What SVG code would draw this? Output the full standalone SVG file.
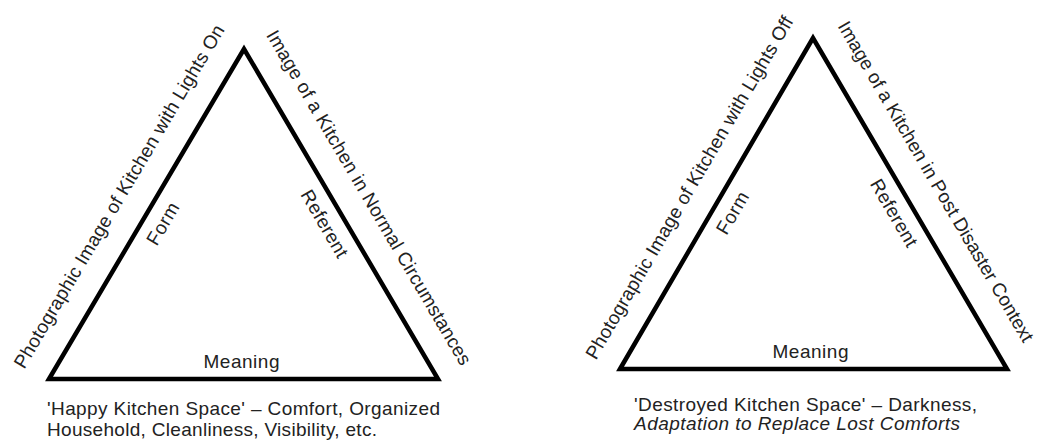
<svg xmlns="http://www.w3.org/2000/svg" width="1045" height="442" viewBox="0 0 1045 442">
  <style>
    .tri { fill: none; stroke: #000; stroke-width: 4.5; stroke-linejoin: miter; stroke-miterlimit: 10; }
    text { font-family: "Liberation Sans", Arial, sans-serif; font-size: 19px; fill: #222; }
    .mid { text-anchor: middle; }
    .it { font-style: italic; }
  </style>
  <rect width="1045" height="442" fill="#fff"/>

  <g id="connectors">
    <path id="edges-left" class="tri" d="M49,379 L244,49 L438,379 Z"/>
    <path id="edges-right" class="tri" d="M620,369 L813,38 L1007,369 Z"/>
  </g>

  <g id="triangle-left">
    <g id="left-form-outer">
      <text class="mid" transform="translate(119.5,196.7) rotate(-59.42)" y="6" textLength="395" lengthAdjust="spacing">Photographic Image of Kitchen with Lights On</text>
    </g>
    <g id="left-form">
      <text class="mid" transform="translate(163.3,223.9) rotate(-59.42)" y="6" textLength="46" lengthAdjust="spacing">Form</text>
    </g>
    <g id="left-referent-outer">
      <text class="mid" transform="translate(368.6,197.8) rotate(59.55)" y="6" textLength="385" lengthAdjust="spacing">Image of a Kitchen in Normal Circumstances</text>
    </g>
    <g id="left-referent">
      <text class="mid" transform="translate(324.2,223.9) rotate(59.55)" y="6" textLength="75" lengthAdjust="spacing">Referent</text>
    </g>
    <g id="left-meaning">
      <text class="mid" x="241.5" y="368" textLength="76" lengthAdjust="spacing">Meaning</text>
    </g>
    <g id="left-caption">
      <text x="47" y="415" textLength="393" lengthAdjust="spacing">'Happy Kitchen Space' – Comfort, Organized</text>
      <text x="47" y="436" textLength="330" lengthAdjust="spacing">Household, Cleanliness, Visibility, etc.</text>
    </g>
  </g>

  <g id="triangle-right">
    <g id="right-form-outer">
      <text class="mid" transform="translate(689.7,187.9) rotate(-59.75)" y="6" textLength="393" lengthAdjust="spacing">Photographic Image of Kitchen with Lights Off</text>
    </g>
    <g id="right-form">
      <text class="mid" transform="translate(732.9,213.1) rotate(-59.75)" y="6" textLength="46" lengthAdjust="spacing">Form</text>
    </g>
    <g id="right-referent-outer">
      <text class="mid" transform="translate(935.5,181.8) rotate(59.63)" y="6" textLength="368" lengthAdjust="spacing">Image of a Kitchen in Post Disaster Context</text>
    </g>
    <g id="right-referent">
      <text class="mid" transform="translate(893.6,213.1) rotate(59.63)" y="6" textLength="75" lengthAdjust="spacing">Referent</text>
    </g>
    <g id="right-meaning">
      <text class="mid" x="810.5" y="358" textLength="76" lengthAdjust="spacing">Meaning</text>
    </g>
    <g id="right-caption">
      <text x="634" y="411" textLength="343" lengthAdjust="spacing">'Destroyed Kitchen Space' – Darkness,</text>
      <text class="it" x="634" y="430" textLength="326" lengthAdjust="spacing">Adaptation to Replace Lost Comforts</text>
    </g>
  </g>
</svg>
